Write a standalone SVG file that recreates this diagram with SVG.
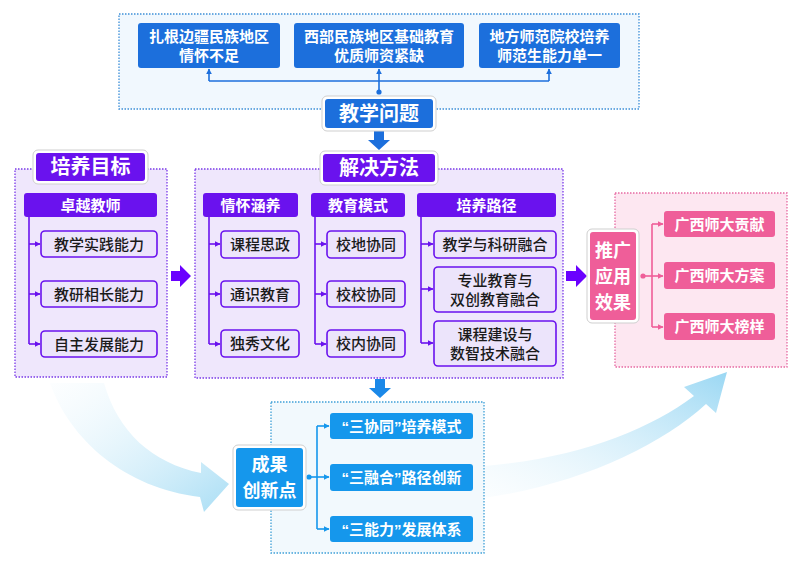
<svg xmlns="http://www.w3.org/2000/svg" width="798" height="565" viewBox="0 0 798 565">
<defs>
<style>
text{font-family:"Noto Sans CJK SC","Noto Sans",sans-serif;text-anchor:middle}
.w{fill:#fff;font-size:15px;font-weight:700}
.q{font-family:"Liberation Sans","Noto Sans CJK SC",sans-serif}
.d{fill:#1a1a1a;font-size:15px;font-weight:500}
.big{fill:#fff;font-size:20px;font-weight:700}
.big2{fill:#fff;font-size:18px;font-weight:700}
.cb{fill:#f1f8fe;stroke:#3d8fd8;stroke-width:1.3;stroke-dasharray:1.5 1.5}
.cp{fill:#efe7fc;stroke:#7a3ae8;stroke-width:1.3;stroke-dasharray:1.5 1.5}
.ck{fill:#fde7f1;stroke:#e66aa2;stroke-width:1.3;stroke-dasharray:1.5 1.5}
.cs{fill:#f2f9fd;stroke:#3fa0d8;stroke-width:1.3;stroke-dasharray:1.5 1.5}
.bt{fill:#1c6fdc}
.pp{fill:#6a12ee}
.pb{fill:#ece4fb;stroke:#6a12ee;stroke-width:1.6}
.pk{fill:#ef5e99}
.sb{fill:#1597ec}
.frame{fill:#fff;stroke:#cfcfcf;stroke-width:1}
.lb{fill:none;stroke:#1c6fdc;stroke-width:1.6}
.lp{fill:none;stroke:#6a12ee;stroke-width:1.6}
.lk{fill:none;stroke:#ef5e99;stroke-width:1.6}
.ls{fill:none;stroke:#1597ec;stroke-width:1.6}
</style>
<marker id="ab" viewBox="0 0 10 10" refX="9" refY="5" markerWidth="6" markerHeight="6" orient="auto" markerUnits="userSpaceOnUse"><path d="M0,0 L10,5 L0,10 z" fill="#1c6fdc"/></marker>
<marker id="ap" viewBox="0 0 10 10" refX="9" refY="5" markerWidth="6" markerHeight="6" orient="auto" markerUnits="userSpaceOnUse"><path d="M0,0 L10,5 L0,10 z" fill="#6a12ee"/></marker>
<marker id="ak" viewBox="0 0 10 10" refX="9" refY="5" markerWidth="6" markerHeight="6" orient="auto" markerUnits="userSpaceOnUse"><path d="M0,0 L10,5 L0,10 z" fill="#ef5e99"/></marker>
<marker id="as" viewBox="0 0 10 10" refX="9" refY="5" markerWidth="6" markerHeight="6" orient="auto" markerUnits="userSpaceOnUse"><path d="M0,0 L10,5 L0,10 z" fill="#1597ec"/></marker>
<linearGradient id="gl" x1="0" y1="0" x2="1" y2="1">
<stop offset="0" stop-color="#e3f4fc" stop-opacity="0.1"/>
<stop offset="1" stop-color="#9ad8f3" stop-opacity="0.85"/>
</linearGradient>
<linearGradient id="gr" x1="0" y1="1" x2="1" y2="0">
<stop offset="0" stop-color="#e3f4fc" stop-opacity="0.15"/>
<stop offset="1" stop-color="#8fd3f2" stop-opacity="0.9"/>
</linearGradient>
</defs>
<rect width="798" height="565" fill="#fff"/>

<!-- swooshes -->
<g id="swoosh-left">
<path d="M50 383 C70 440 125 488 200 497 L204 512 L229 484 L201 462 L201 473 C152 463 118 432 104 383 Z" fill="url(#gl)"/>
</g>
<g id="swoosh-right">
<path d="M484 466 C580 458 648 430 694 396 L684 387 L727 372 L716 413 L706 404 C660 446 580 484 484 498 Z" fill="url(#gr)"/>
</g>

<!-- containers -->
<g id="containers">
<rect class="cb" x="119" y="14" width="520" height="95"/>
<rect class="cp" x="15" y="169" width="152" height="208"/>
<rect class="cp" x="195" y="169" width="368" height="209"/>
<rect class="ck" x="615" y="193" width="172" height="174"/>
<rect class="cs" x="271" y="402" width="213" height="151"/>
</g>

<!-- connectors -->
<g id="connectors">
<path class="lb" d="M209 81 H549"/>
<path class="lb" d="M209 81 V69" marker-end="url(#ab)"/>
<path class="lb" d="M549 81 V69" marker-end="url(#ab)"/>
<path class="lb" d="M379 92 V69" marker-end="url(#ab)"/>
<circle cx="379" cy="92" r="2.6" fill="#1c6fdc"/>
<path d="M374 131 H384 V140 H390 L379 150 L368 140 H374 Z" fill="#1c6fdc"/>

<path class="lp" d="M29 217 V344"/>
<path class="lp" d="M29 244 H40" marker-end="url(#ap)"/>
<path class="lp" d="M29 294 H40" marker-end="url(#ap)"/>
<path class="lp" d="M29 344 H40" marker-end="url(#ap)"/>

<path class="lp" d="M209 217 V344"/>
<path class="lp" d="M209 244 H220" marker-end="url(#ap)"/>
<path class="lp" d="M209 294 H220" marker-end="url(#ap)"/>
<path class="lp" d="M209 344 H220" marker-end="url(#ap)"/>

<path class="lp" d="M315 217 V344"/>
<path class="lp" d="M315 244 H326" marker-end="url(#ap)"/>
<path class="lp" d="M315 294 H326" marker-end="url(#ap)"/>
<path class="lp" d="M315 344 H326" marker-end="url(#ap)"/>

<path class="lp" d="M421 217 V343"/>
<path class="lp" d="M421 244 H433" marker-end="url(#ap)"/>
<path class="lp" d="M421 289 H433" marker-end="url(#ap)"/>
<path class="lp" d="M421 343 H433" marker-end="url(#ap)"/>

<path d="M171 271 H180 V265 L191 276 L180 287 V281 H171 Z" fill="#6a00ff"/>
<path d="M566 271 H576 V265 L587 276 L576 287 V281 H566 Z" fill="#6a00ff"/>

<circle cx="643" cy="276" r="2.6" fill="#ef5e99"/>
<path class="lk" d="M643 276 H652"/>
<path class="lk" d="M652 224 V327"/>
<path class="lk" d="M652 224 H663" marker-end="url(#ak)"/>
<path class="lk" d="M652 276 H663" marker-end="url(#ak)"/>
<path class="lk" d="M652 327 H663" marker-end="url(#ak)"/>

<path d="M375 379 H385 V388 H391 L380 398 L369 388 H375 Z" fill="#1a88e8"/>
<circle cx="309" cy="477" r="2.6" fill="#1597ec"/>
<path class="ls" d="M309 477 H317"/>
<path class="ls" d="M317 426 V529"/>
<path class="ls" d="M317 426 H329" marker-end="url(#as)"/>
<path class="ls" d="M317 477 H329" marker-end="url(#as)"/>
<path class="ls" d="M317 529 H329" marker-end="url(#as)"/>
</g>

<!-- top problems -->
<g id="p1"><rect class="bt" x="138" y="23" width="142" height="45" rx="3"/><text class="w" x="209" y="41.5">扎根边疆民族地区</text><text class="w" x="209" y="60.5">情怀不足</text></g>
<g id="p2"><rect class="bt" x="294" y="23" width="170" height="45" rx="3"/><text class="w" x="379" y="41.5">西部民族地区基础教育</text><text class="w" x="379" y="60.5">优质师资紧缺</text></g>
<g id="p3"><rect class="bt" x="479" y="23" width="141" height="45" rx="3"/><text class="w" x="549.5" y="41.5">地方师范院校培养</text><text class="w" x="549.5" y="60.5">师范生能力单一</text></g>
<g id="jxwt"><rect class="frame" x="322" y="96" width="114" height="35" rx="5"/><rect class="bt" x="325" y="99" width="108" height="29" rx="3"/><text class="big" x="379" y="120.5">教学问题</text></g>

<!-- left -->
<g id="pymb"><rect class="frame" x="33" y="150" width="115" height="34" rx="5"/><rect class="pp" x="36" y="153" width="109" height="28" rx="3"/><text class="big" x="90.5" y="174">培养目标</text></g>
<g id="zyjs"><rect class="pp" x="24" y="193" width="133" height="24" rx="3"/><text class="w" x="90.5" y="210.5">卓越教师</text></g>
<g id="l1"><rect class="pb" x="41" y="231" width="116" height="26" rx="4"/><text class="d" x="99" y="249.5">教学实践能力</text></g>
<g id="l2"><rect class="pb" x="41" y="281" width="116" height="26" rx="4"/><text class="d" x="99" y="299.5">教研相长能力</text></g>
<g id="l3"><rect class="pb" x="41" y="331" width="116" height="26" rx="4"/><text class="d" x="99" y="349.5">自主发展能力</text></g>

<!-- middle -->
<g id="jjff"><rect class="frame" x="320" y="151" width="118" height="34" rx="5"/><rect class="pp" x="323" y="154" width="112" height="28" rx="3"/><text class="big" x="379" y="175">解决方法</text></g>
<g id="qhhy"><rect class="pp" x="203" y="193" width="95" height="24" rx="3"/><text class="w" x="250.5" y="210.5">情怀涵养</text></g>
<g id="m11"><rect class="pb" x="221" y="231" width="78" height="27" rx="4"/><text class="d" x="260" y="250">课程思政</text></g>
<g id="m12"><rect class="pb" x="221" y="281" width="78" height="26" rx="4"/><text class="d" x="260" y="299.5">通识教育</text></g>
<g id="m13"><rect class="pb" x="221" y="330" width="78" height="27" rx="4"/><text class="d" x="260" y="349">独秀文化</text></g>
<g id="jyms"><rect class="pp" x="311" y="193" width="94" height="24" rx="3"/><text class="w" x="358" y="210.5">教育模式</text></g>
<g id="m21"><rect class="pb" x="327" y="231" width="78" height="27" rx="4"/><text class="d" x="366" y="250">校地协同</text></g>
<g id="m22"><rect class="pb" x="327" y="281" width="78" height="26" rx="4"/><text class="d" x="366" y="299.5">校校协同</text></g>
<g id="m23"><rect class="pb" x="327" y="330" width="78" height="27" rx="4"/><text class="d" x="366" y="349">校内协同</text></g>
<g id="pylj"><rect class="pp" x="417" y="193" width="139" height="24" rx="3"/><text class="w" x="486.5" y="210.5">培养路径</text></g>
<g id="m31"><rect class="pb" x="434" y="231" width="122" height="27" rx="4"/><text class="d" x="495" y="250">教学与科研融合</text></g>
<g id="m32"><rect class="pb" x="434" y="267" width="122" height="45" rx="4"/><text class="d" x="495" y="285.5">专业教育与</text><text class="d" x="495" y="304.5">双创教育融合</text></g>
<g id="m33"><rect class="pb" x="434" y="321" width="122" height="45" rx="4"/><text class="d" x="495" y="339.5">课程建设与</text><text class="d" x="495" y="358.5">数智技术融合</text></g>

<!-- right -->
<g id="tgyy"><rect class="frame" x="587" y="229" width="52" height="94" rx="5"/><rect class="pk" x="590" y="232" width="46" height="88" rx="3"/><text class="big2" x="613" y="256.5">推广</text><text class="big2" x="613" y="282.5">应用</text><text class="big2" x="613" y="308.5">效果</text></g>
<g id="r1"><rect class="pk" x="664" y="211" width="111" height="26" rx="3"/><text class="w" x="719.5" y="229.5">广西师大贡献</text></g>
<g id="r2"><rect class="pk" x="664" y="262" width="111" height="27" rx="3"/><text class="w" x="719.5" y="281">广西师大方案</text></g>
<g id="r3"><rect class="pk" x="664" y="313" width="111" height="27" rx="3"/><text class="w" x="719.5" y="332">广西师大榜样</text></g>

<!-- bottom -->
<g id="cgcxd"><rect class="frame" x="233" y="445" width="73" height="65" rx="5"/><rect class="sb" x="236" y="448" width="67" height="59" rx="3"/><text class="big2" x="269.5" y="470.5">成果</text><text class="big2" x="269.5" y="496.5">创新点</text></g>
<g id="b1"><rect class="sb" x="330" y="413" width="143" height="26" rx="3"/><text class="w q" x="401.5" y="431.5">“三协同”培养模式</text></g>
<g id="b2"><rect class="sb" x="330" y="464" width="143" height="27" rx="3"/><text class="w q" x="401.5" y="483">“三融合”路径创新</text></g>
<g id="b3"><rect class="sb" x="330" y="516" width="143" height="26" rx="3"/><text class="w q" x="401.5" y="534.5">“三能力”发展体系</text></g>
</svg>
